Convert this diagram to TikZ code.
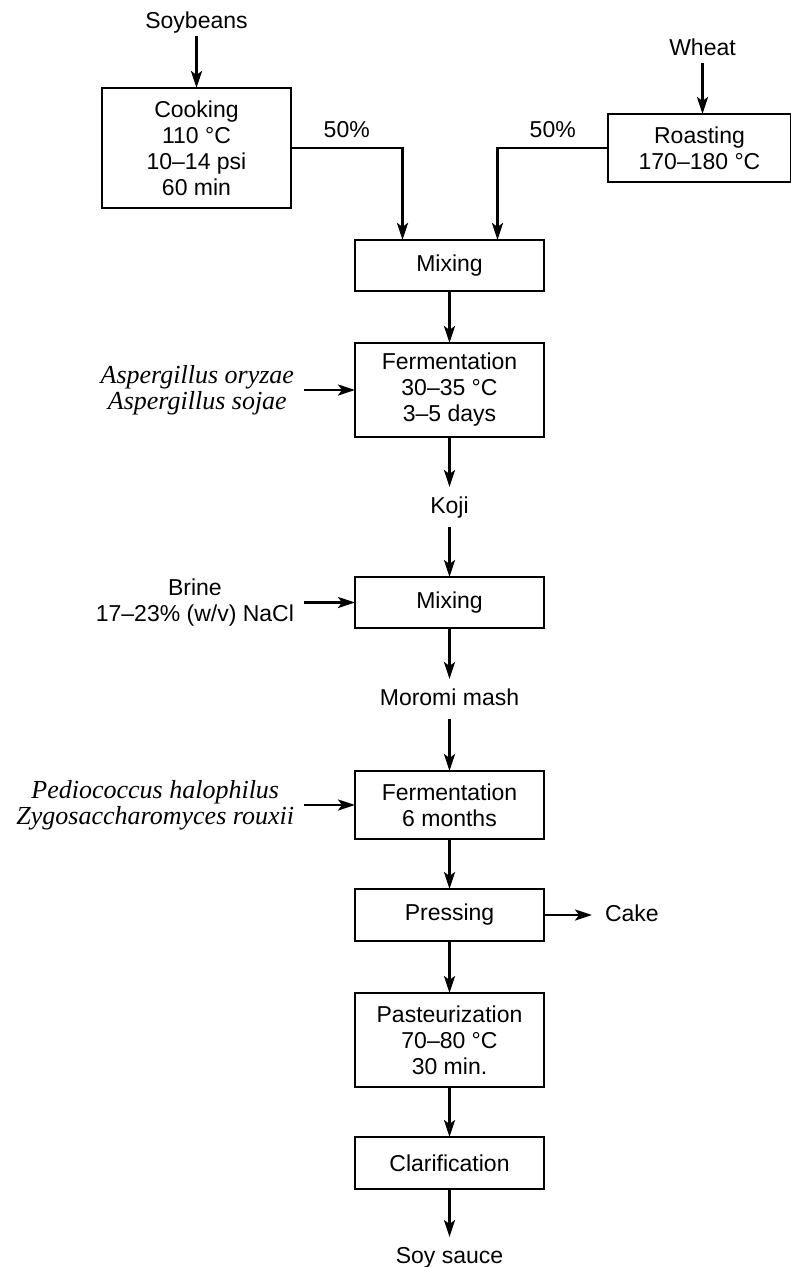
\documentclass[tikz,border=0pt]{standalone}
\usepackage{fontspec}
\setmainfont{Liberation Sans}
\newfontfamily\bugfont{Liberation Serif}
\usetikzlibrary{arrows.meta,positioning}

\begin{document}
\begin{tikzpicture}[
  node distance=50pt and 50pt,
  box/.style={draw, line width=1.4pt, outer sep=0pt, minimum width=189pt, minimum height=51pt, inner sep=0pt, align=center, font=\fontsize{23}{26}\selectfont},
  lbl/.style={outer sep=0pt, inner xsep=12pt, inner ysep=9pt, text height=17pt, text depth=5pt, font=\fontsize{23}{26}\selectfont},
  src/.style={lbl, inner ysep=3pt},
  side/.style={outer sep=0pt, inner xsep=10pt, inner ysep=0pt, align=center, font=\fontsize{23}{26}\selectfont},
  bug/.style={side, font=\bugfont\itshape\fontsize{26}{26}\selectfont},
  pct/.style={inner sep=0pt, text height=17pt, text depth=0pt, font=\fontsize{23}{26}\selectfont},
  arrow/.style={-{Stealth[length=17pt, width=11pt, inset=4pt]}, line width=2.4pt}
]
\useasboundingbox (0pt,0pt) rectangle (791pt,-1267pt);
\node[box, minimum height=120pt] (cook) at (196.5pt,-148pt) {Cooking\\110 °C\\10--14 psi\\60 min};
\node[box, minimum width=183pt, minimum height=68pt] (roast) at (699.5pt,-148pt) {Roasting\\170--180 °C};
\node[src, above=52pt of cook] (soybean) {Soybeans};
\node[src, above=51pt of roast, xshift=3pt] (wheat) {Wheat};
\node[box] (mix1) at (449.5pt,-265.5pt) {Mixing};
\node[box, below=52pt of mix1, minimum height=94pt] (ferm1) {Fermentation\\30--35 °C\\3--5 days};
\node[lbl, below=50pt of ferm1] (koji) {Koji};
\node[box, below=50pt of koji] (mix2) {Mixing};
\node[lbl, below=51pt of mix2] (moromi) {Moromi mash};
\node[box, below=52pt of moromi, minimum height=68pt] (ferm2) {Fermentation\\6 months};
\node[box, below=50pt of ferm2, minimum height=52pt] (press) {Pressing};
\node[box, below=52pt of press, minimum height=94pt] (past) {Pasteurization\\70--80 °C\\30 min.};
\node[box, below=50pt of past, minimum height=52pt] (clar) {Clarification};
\node[lbl, below=48pt of clar] (soy) {Soy sauce};
\node[bug, left=51pt of ferm1] (asp) {Aspergillus oryzae\\Aspergillus sojae};
\node[side, left=51pt of mix2] (brine) {Brine\\17--23\% (w/v) NaCl};
\node[bug, left=51pt of ferm2] (lab) {Pediococcus halophilus\\Zygosaccharomyces rouxii};
\node[lbl, right=48pt of press, inner xsep=13pt] (cake) {Cake};
\draw[arrow] (soybean) -- (cook);
\draw[arrow] (wheat) -- (wheat |- roast.north);
\draw[arrow] (cook) -| ([xshift=-47pt]mix1.north) node[pct, pos=.25, above=9pt] {50\%};
\draw[arrow] (roast) -| ([xshift=48pt]mix1.north) node[pct, pos=.25, above=9pt] {50\%};
\draw[arrow] (mix1) -- (ferm1);
\draw[arrow] (ferm1) -- (koji);
\draw[arrow] (koji) -- (mix2);
\draw[arrow] (mix2) -- (moromi);
\draw[arrow] (moromi) -- (ferm2);
\draw[arrow] (ferm2) -- (press);
\draw[arrow] (press) -- (past);
\draw[arrow] (past) -- (clar);
\draw[arrow] (clar) -- (soy);
\draw[arrow] (asp.east |- ferm1) -- (ferm1);
\draw[arrow] (brine.east |- mix2) -- (mix2);
\draw[arrow] (lab.east |- ferm2) -- (ferm2);
\draw[arrow] (press) -- (cake);
\end{tikzpicture}
\end{document}
